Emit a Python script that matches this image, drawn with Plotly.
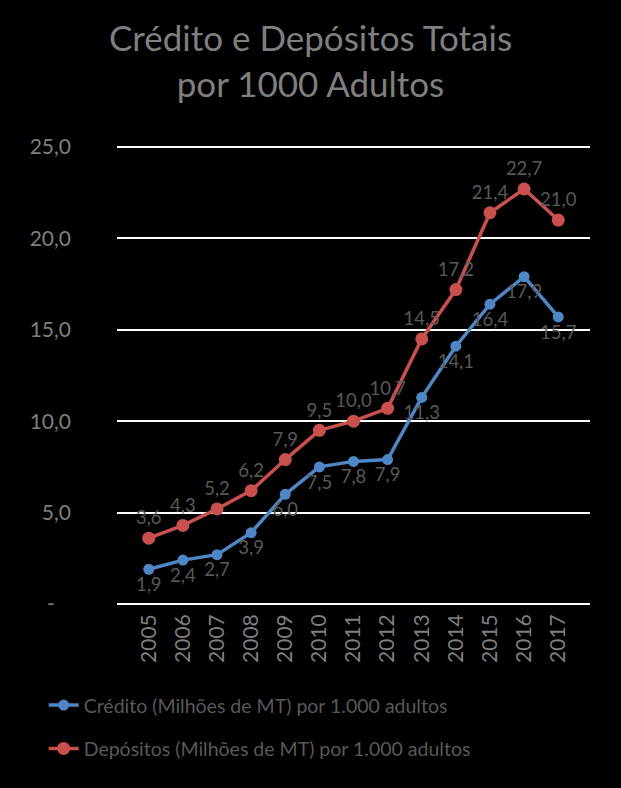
import plotly.graph_objects as go

years = [str(y) for y in range(2005, 2018)]
credito = [1.9, 2.4, 2.7, 3.9, 6.0, 7.5, 7.8, 7.9, 11.3, 14.1, 16.4, 17.9, 15.7]
depositos = [3.6, 4.3, 5.2, 6.2, 7.9, 9.5, 10.0, 10.7, 14.5, 17.2, 21.4, 22.7, 21.0]
y_ticks = [0, 5, 10, 15, 20, 25]
y_tick_text = ["-\u00a0\u00a0\u00a0", "5,0", "10,0", "15,0", "20,0", "25,0"]

def fmt(v):
    return f"{v:.1f}".replace(".", ",")

FONT = "Lato, 'Open Sans', sans-serif"
LABEL = "#595959"

fig = go.Figure()
fig.add_trace(go.Scatter(
    x=years, y=credito, name="Crédito (Milhões de MT) por 1.000 adultos",
    legendgroup="a",
    mode="lines+markers+text", text=[fmt(v) for v in credito],
    textposition="bottom center", textfont=dict(color=LABEL, size=18.5, family=FONT),
    line=dict(color="#4F86C6", width=3.5), marker=dict(size=11, color="#4F86C6"),
    cliponaxis=False,
))
fig.add_trace(go.Scatter(
    x=years, y=depositos, name="Depósitos (Milhões de MT) por 1.000 adultos",
    legendgroup="b",
    mode="lines+markers+text", text=[fmt(v) for v in depositos],
    textposition="top center", textfont=dict(color=LABEL, size=18.5, family=FONT),
    line=dict(color="#C9504E", width=3.5), marker=dict(size=13, color="#C9504E"),
    cliponaxis=False,
))

fig.update_layout(
    width=621, height=788,
    paper_bgcolor="black", plot_bgcolor="black",
    margin=dict(l=117, r=31, t=144, b=184),
    font=dict(family=FONT, color="#7f7f7f"),
    title=dict(text="Crédito e Depósitos Totais<br>por 1000 Adultos",
               x=0.5, xanchor="center", y=1 - 51 / 788, yanchor="middle",
               font=dict(size=35, color="#7f7f7f", family=FONT)),
    showlegend=True,
    legend=dict(x=-0.155, xanchor="left", y=-0.178, yanchor="top",
                orientation="v", bgcolor="rgba(0,0,0,0)",
                font=dict(size=19.5, color="#595959", family=FONT),
                tracegroupgap=15, itemwidth=30),
)
fig.update_xaxes(
    type="category", tickangle=-90, showgrid=False, zeroline=False,
    showline=False, ticks="", ticklabelstandoff=5,
    tickfont=dict(size=21, color="#7f7f7f", family=FONT),
)
fig.update_yaxes(
    range=[0, 25.16], tickvals=y_ticks, ticktext=y_tick_text,
    showgrid=True, gridcolor="white", gridwidth=1.5, zeroline=True,
    zerolinecolor="white", zerolinewidth=1.5, showline=False,
    ticklabelstandoff=45, tickfont=dict(size=21, color="#7f7f7f", family=FONT),
)

fig.write_html("out.html")
